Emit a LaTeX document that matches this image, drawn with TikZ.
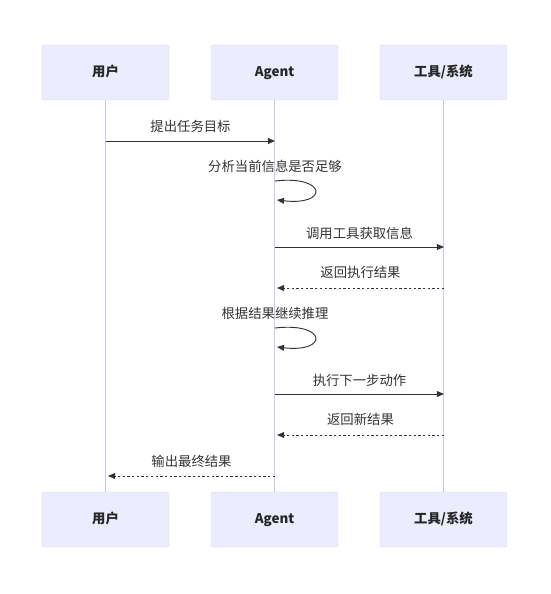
\documentclass[tikz,border=0pt]{standalone}
\usepackage{fontspec}
\setmainfont{Noto Sans CJK SC}
\usetikzlibrary{arrows.meta, positioning, calc, backgrounds}
\definecolor{actorfill}{RGB}{236,236,255}
\definecolor{actorline}{RGB}{218,214,242}
\definecolor{lifecolor}{RGB}{204,200,236}
\definecolor{msgcolor}{RGB}{51,51,51}

\begin{document}
\begin{tikzpicture}[
    x=0.03cm, y=-0.03cm,
    actor/.style={rectangle, draw=actorline, fill=actorfill, rounded corners=2pt, minimum width=3.81cm, minimum height=1.65cm, align=center, text height=0.75em, text depth=0.05em, font=\fontsize{11.4}{13}\selectfont\bfseries, text=black!85},
    life/.style={draw=lifecolor, line width=1pt},
    msg/.style={-{Triangle[length=6pt, width=5pt]}, draw=msgcolor, line width=0.8pt},
    reply/.style={msg, dash pattern=on 2pt off 2pt},
    lbl/.style={font=\fontsize{11.4}{13}\selectfont, text=msgcolor, inner sep=0pt}
]
\useasboundingbox (0,0) rectangle (550,594);

% actors
\node[actor] (userTop) at (105.5,72.5) {用户};
\node[actor] (agentTop) at (274.5,72.5) {Agent};
\node[actor] (toolTop) at (443.5,72.5) {工具/系统};
\node[actor] (userBot) at (105.5,519.5) {用户};
\node[actor] (agentBot) at (274.5,519.5) {Agent};
\node[actor] (toolBot) at (443.5,519.5) {工具/系统};

% lifelines
\begin{scope}[on background layer]
\draw[life] (userTop) -- (userBot);
\draw[life] (agentTop) -- (agentBot);
\draw[life] (toolTop) -- (toolBot);
\end{scope}

% message ends
\coordinate (u1) at (106,141);
\coordinate (a1) at (275,141);
\coordinate (a2) at (275,181);
\coordinate (a2e) at (277,200);
\coordinate (a3) at (275,247);
\coordinate (t3) at (444,247);
\coordinate (t4) at (444,288);
\coordinate (a4) at (277,288);
\coordinate (a5) at (275,328);
\coordinate (a5e) at (277,347);
\coordinate (a6) at (275,394);
\coordinate (t6) at (444,394);
\coordinate (t7) at (444,435);
\coordinate (a7) at (277,435);
\coordinate (a8) at (275,476);
\coordinate (u8) at (108,476);

% messages
\draw[msg] (u1) -- (a1);
\node[lbl] at ($(u1)!0.5!(a1)+(0,-15)$) {提出任务目标};
\draw[msg] (a2) .. controls ++(52,-6) and ++(52,6) .. (a2e);
\node[lbl] at ($(a2)+(0,-15)$) {分析当前信息是否足够};
\draw[msg] (a3) -- (t3);
\node[lbl] at ($(a3)!0.5!(t3)+(0,-14)$) {调用工具获取信息};
\draw[reply] (t4) -- (a4);
\node[lbl] at ($(t4)!0.5!(a4)+(0,-16)$) {返回执行结果};
\draw[msg] (a5) .. controls ++(52,-6) and ++(52,6) .. (a5e);
\node[lbl] at ($(a5)+(0,-15)$) {根据结果继续推理};
\draw[msg] (a6) -- (t6);
\node[lbl] at ($(a6)!0.5!(t6)+(0,-14)$) {执行下一步动作};
\draw[reply] (t7) -- (a7);
\node[lbl] at ($(t7)!0.5!(a7)+(0,-16)$) {返回新结果};
\draw[reply] (a8) -- (u8);
\node[lbl] at ($(a8)!0.5!(u8)+(0,-15)$) {输出最终结果};
\end{tikzpicture}
\end{document}
